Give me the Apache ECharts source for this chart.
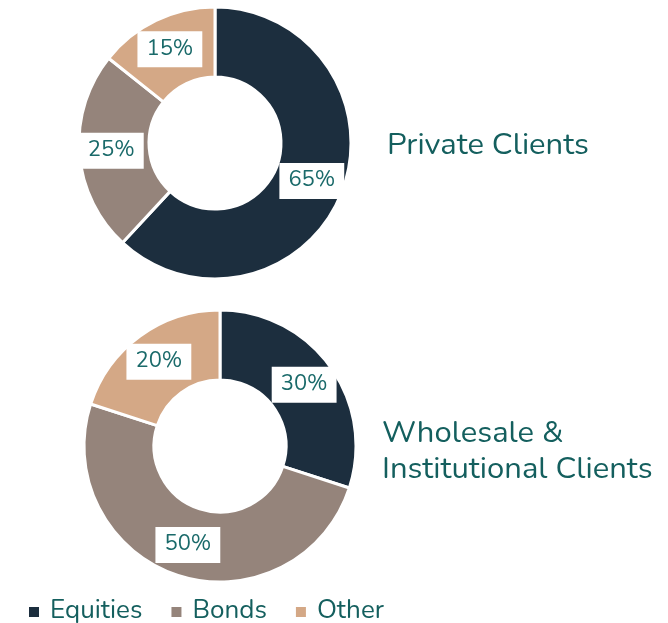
<!DOCTYPE html>
<html>
<head>
<meta charset="utf-8">
<script src="https://cdn.jsdelivr.net/npm/echarts@6/dist/echarts.min.js"></script>
<style>
  html, body { margin: 0; padding: 0; background: #fff; }
  #main { width: 668px; height: 623px; }
</style>
</head>
<body>
<div id="main"></div>
<script>
const categories = ['Equities', 'Bonds', 'Other'];
const privateValues = [65, 25, 15];
const wholesaleValues = [30, 50, 20];
const chartTitles = ['Private Clients', 'Wholesale &\nInstitutional Clients'];

const colors = ['#1c2e3e', '#95847b', '#d4a886'];
const textColor = '#145f5e';
const labelColor = '#1a6a6a';
const font = 'Nunito, Lato, sans-serif';

function pieData(values) {
  return categories.map((name, i) => ({ name: name, value: values[i] }));
}

function pieSeries(name, values, center) {
  return {
    name: name,
    type: 'pie',
    center: center,
    radius: [66, 136],
    startAngle: 90,
    clockwise: true,
    silent: true,
    itemStyle: { borderColor: '#fff', borderWidth: 3 },
    label: {
      show: true,
      position: 'inside',
      formatter: '{c}%',
      color: labelColor,
      fontFamily: font,
      fontSize: 22,
      backgroundColor: '#fff',
      padding: [8, 9, 6, 9]
    },
    labelLine: { show: false },
    emphasis: { disabled: true },
    data: pieData(values)
  };
}

const chart = echarts.init(document.getElementById('main'));
const option = {
  animation: false,
  color: colors,
  title: [
    {
      text: chartTitles[0],
      left: 382, top: 126,
      textStyle: { color: textColor, fontFamily: font, fontSize: 31, fontWeight: 'normal' }
    },
    {
      text: chartTitles[1],
      left: 377, top: 412,
      textStyle: { color: textColor, fontFamily: font, fontSize: 31, fontWeight: 'normal', lineHeight: 36 }
    }
  ],
  legend: {
    left: 22, top: 594,
    icon: 'rect',
    itemWidth: 12, itemHeight: 12,
    itemGap: 27,
    selectedMode: false,
    textStyle: { color: textColor, fontFamily: font, fontSize: 26, padding: [0, 0, 0, 5] },
    data: categories
  },
  series: [
    pieSeries('Private Clients', privateValues, [215, 143]),
    pieSeries('Wholesale & Institutional Clients', wholesaleValues, [220, 446])
  ]
};
chart.setOption(option);
</script>
</body>
</html>
